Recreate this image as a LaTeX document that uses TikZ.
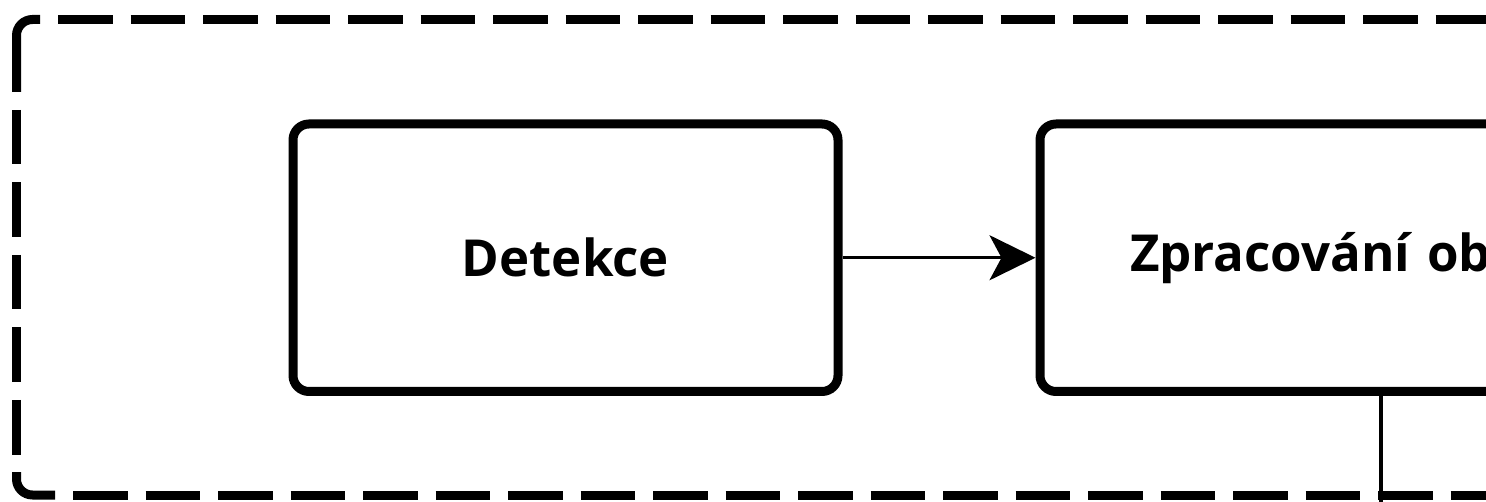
\documentclass[tikz,border=0pt]{standalone}
\usepackage{fontspec}
\setmainfont{Open Sans}
\usetikzlibrary{arrows.meta}
\tikzset{
  procbox/.style={draw=black, line width=9pt, rounded corners=16pt, minimum height=267.5pt, inner sep=0pt,
    font=\fontsize{51}{62}\selectfont\bfseries},
  framepart/.style={line width=9pt, line cap=butt},
  framedash/.style={framepart, dash pattern=on 54.5pt off 18pt},
  link/.style={line width=3pt, -{Stealth[length=46pt, width=45pt, inset=12pt]}},
  drop/.style={line width=4pt}
}
\begin{document}
\begin{tikzpicture}[x=1pt,y=-1pt]
\useasboundingbox (0,0) rectangle (1486,502);
\clip (0,0) rectangle (1486,502);
% dashed container frame
\draw[framepart, rounded corners=16pt] (16.5,92) -- (16.5,19.5) -- (40,19.5);
\draw[framedash] (58,19.5) -- (1600,19.5);
\draw[framedash] (16.5,110) -- (16.5,454.5);
\draw[framepart, rounded corners=16pt] (16.5,472) -- (16.5,495) -- (55,495);
\draw[framedash] (73,495) -- (1600,495);
% boxes
\node[procbox, minimum width=545pt] (det) at (565.5,257.75) {Detekce};
\node[procbox, minimum width=682pt, text width=502pt, align=left] (zpr) at (1381,257.75) {Zpracování ob};
\coordinate (out) at (1381,520);
\draw[link] (det.east) -- (zpr.west);
\draw[drop] (zpr.south) -- (out);
\end{tikzpicture}
\end{document}
